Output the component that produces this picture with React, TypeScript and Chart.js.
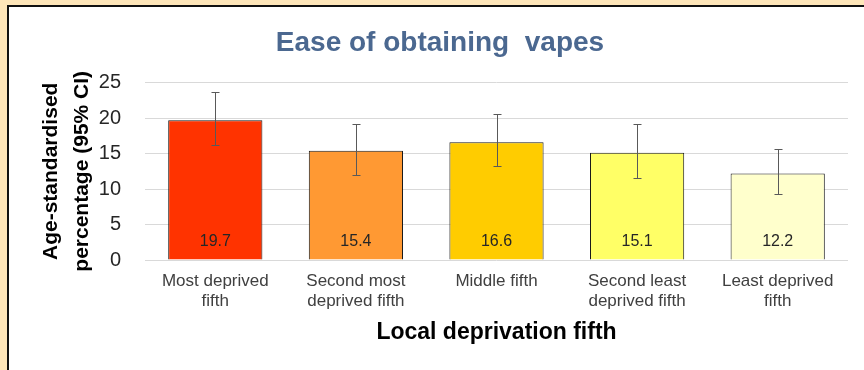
import React, { useEffect, useRef } from "react";
import { Chart, registerables } from "chart.js";

Chart.register(...registerables);

const titleText = "Ease of obtaining  vapes";
const yTitle = ["Age-standardised", "percentage (95% CI)"];
const xTitle = "Local deprivation fifth";
const categories: string[][] = [
  ["Most deprived", "fifth"],
  ["Second most", "deprived fifth"],
  ["Middle fifth"],
  ["Second least", "deprived fifth"],
  ["Least deprived", "fifth"],
];
const values = [19.7, 15.4, 16.6, 15.1, 12.2];
const lowerCI = [16.2, 12.0, 13.2, 11.6, 9.3];
const upperCI = [23.7, 19.1, 20.6, 19.1, 15.6];
const barColors = ["#FF3300", "#FF9933", "#FFCC00", "#FFFF66", "#FFFFCC"];
const yMin = 0;
const yMax = 25;
const yStep = 5;

const FONT = "'Liberation Sans', Arial, sans-serif";

const errorBarPlugin = {
  id: "errorBarsAndLabels",
  afterDatasetsDraw(chart: any) {
    const ctx = chart.ctx as CanvasRenderingContext2D;
    const meta = chart.getDatasetMeta(0);
    const yScale = chart.scales.y;
    ctx.save();
    meta.data.forEach((bar: any, i: number) => {
      const x = Math.round(bar.x) + 0.5;
      const yl = Math.round(yScale.getPixelForValue(lowerCI[i])) + 0.5;
      const yu = Math.round(yScale.getPixelForValue(upperCI[i])) + 0.5;
      ctx.strokeStyle = "#595959";
      ctx.lineWidth = 1;
      ctx.beginPath();
      ctx.moveTo(x, yu);
      ctx.lineTo(x, yl);
      ctx.moveTo(x - 4, yu);
      ctx.lineTo(x + 4, yu);
      ctx.moveTo(x - 4, yl);
      ctx.lineTo(x + 4, yl);
      ctx.stroke();

      ctx.fillStyle = "#262626";
      ctx.font = `16px ${FONT}`;
      ctx.textAlign = "center";
      ctx.textBaseline = "middle";
      ctx.fillText(values[i].toFixed(1), bar.x, yScale.getPixelForValue(0) - 18);
    });
    ctx.restore();
  },
};

export default function App() {
  const canvasRef = useRef<HTMLCanvasElement | null>(null);

  useEffect(() => {
    if (!canvasRef.current) return;
    const chart = new Chart(canvasRef.current, {
      type: "bar",
      data: {
        labels: categories,
        datasets: [
          {
            data: values,
            backgroundColor: barColors,
            borderColor: "#1a1a1a",
            borderWidth: 1,
            categoryPercentage: 1,
            barPercentage: 0.67,
          },
        ],
      },
      options: {
        animation: false,
        responsive: false,
        maintainAspectRatio: false,
        layout: { padding: { left: 32, right: 16, top: 10, bottom: 10 } },
        plugins: {
          legend: { display: false },
          tooltip: { enabled: false },
          title: {
            display: true,
            text: titleText,
            color: "#4B6890",
            font: { family: FONT, size: 28, weight: "bold", lineHeight: 1.2 },
            padding: { top: 16, bottom: 23 },
          },
        },
        scales: {
          x: {
            grid: { display: false, drawTicks: false },
            border: { display: false },
            ticks: {
              color: "#404040",
              font: { family: FONT, size: 17, lineHeight: "19.5px" as any },
              padding: 12,
              maxRotation: 0,
              autoSkip: false,
            },
            title: {
              display: true,
              text: xTitle,
              color: "#000000",
              font: { family: FONT, size: 23, weight: "bold", lineHeight: 1.2 },
              padding: { top: 0, bottom: 14 },
            },
            afterFit: (scale: any) => {
              scale.height = 100;
            },
          },
          y: {
            min: yMin,
            max: yMax,
            grid: { color: "#D9D9D9", lineWidth: 1, drawTicks: false },
            border: { display: false },
            ticks: {
              stepSize: yStep,
              color: "#262626",
              font: { family: FONT, size: 20 },
              padding: 24,
            },
            title: {
              display: true,
              text: yTitle,
              color: "#000000",
              font: { family: FONT, size: 21, weight: "bold", lineHeight: "31px" as any },
              padding: { top: 4, bottom: 0 },
            },
            afterFit: (scale: any) => {
              scale.width = 113;
            },
          },
        },
      },
      plugins: [errorBarPlugin],
    });
    return () => chart.destroy();
  }, []);

  return (
    <div
      style={{
        position: "fixed",
        left: 0,
        top: 0,
        width: 864,
        height: 370,
        overflow: "hidden",
        background: "#FEE6B9",
      }}
    >
      <div
        style={{
          position: "absolute",
          left: 7,
          top: 5,
          width: 900,
          height: 400,
          borderLeft: "2px solid #111",
          borderTop: "2px solid #111",
          background: "#FFFFFF",
        }}
      />
      <canvas
        ref={canvasRef}
        width={864}
        height={370}
        style={{ position: "absolute", left: 0, top: 0, width: 864, height: 370 }}
      />
    </div>
  );
}
